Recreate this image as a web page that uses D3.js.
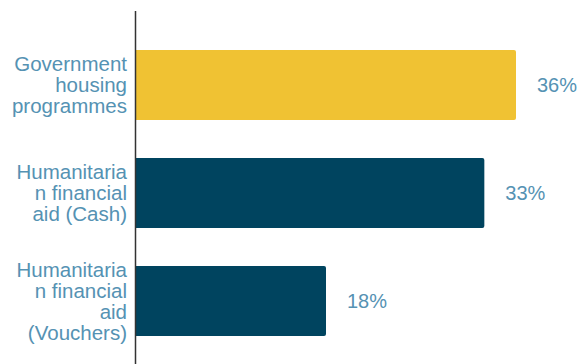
<!DOCTYPE html>
<html>
<head>
<meta charset="utf-8">
<script src="https://cdn.jsdelivr.net/npm/d3@7"></script>
<style>
  html, body { margin: 0; padding: 0; background: #fff; }
  svg { display: block; }
</style>
</head>
<body>
<svg id="chart" width="579" height="364"></svg>
<script>
// Support types and the share of respondents for each
const categories = [
  "Government housing programmes",
  "Humanitarian financial aid (Cash)",
  "Humanitarian financial aid (Vouchers)"
];
const values = [36, 33, 18];
// Category labels as wrapped lines
const tickLabels = [
  ["Government", "housing", "programmes"],
  ["Humanitaria", "n financial", "aid (Cash)"],
  ["Humanitaria", "n financial", "aid", "(Vouchers)"]
];
const barColors = ["#F0C233", "#00445F", "#00445F"];

const W = 579, H = 364;
const margin = { left: 136, right: 63, top: 31, bottom: 9 };

const svg = d3.select("#chart");

const x = d3.scaleLinear()
  .domain([0, 36])
  .range([margin.left, 516]);

const y = d3.scaleBand()
  .domain(categories)
  .range([margin.top, H - margin.bottom])
  .paddingInner(0.35)
  .paddingOuter(0.175);

const font = "'Liberation Sans', Arial, Helvetica, sans-serif";
const textColor = "#5592B3";

// Bars with slightly rounded right corners
const r = 2;
svg.append("g").selectAll("path")
  .data(categories)
  .join("path")
  .attr("fill", (d, i) => barColors[i])
  .attr("d", (d, i) => {
    const x0 = x(0), x1 = x(values[i]);
    const y0 = y(d), y1 = y(d) + y.bandwidth();
    return `M${x0},${y0}H${x1 - r}Q${x1},${y0} ${x1},${y0 + r}V${y1 - r}Q${x1},${y1} ${x1 - r},${y1}H${x0}Z`;
  });

// Value labels
svg.append("g").selectAll("text")
  .data(categories)
  .join("text")
  .attr("x", (d, i) => x(values[i]) + 21)
  .attr("y", d => y(d) + y.bandwidth() / 2)
  .attr("dy", "0.35em")
  .attr("font-family", font)
  .attr("font-size", 20)
  .attr("fill", textColor)
  .text((d, i) => values[i] + "%");

// Category axis
const yAxis = d3.axisLeft(y).tickSize(0).tickPadding(9).tickFormat("");
const axisG = svg.append("g")
  .attr("transform", `translate(${margin.left},0)`)
  .call(yAxis);
axisG.select(".domain").remove();
axisG.append("line")
  .attr("x1", -0.5).attr("x2", -0.5)
  .attr("y1", 11).attr("y2", H)
  .attr("stroke", "#333")
  .attr("stroke-width", 1.5);

const lineH = 21;
axisG.selectAll(".tick").each(function(d, i) {
  const lines = tickLabels[i];
  const t = d3.select(this).select("text")
    .attr("font-family", font)
    .attr("font-size", 20.5)
    .attr("fill", textColor)
    .attr("text-anchor", "end")
    .attr("x", -9)
    .attr("dy", null);
  const offset = -(lines.length - 1) / 2 * lineH;
  t.selectAll("tspan")
    .data(lines)
    .join("tspan")
    .attr("x", -9)
    .attr("y", (l, j) => offset + j * lineH)
    .attr("dy", "0.35em")
    .text(l => l);
});
</script>
</body>
</html>
